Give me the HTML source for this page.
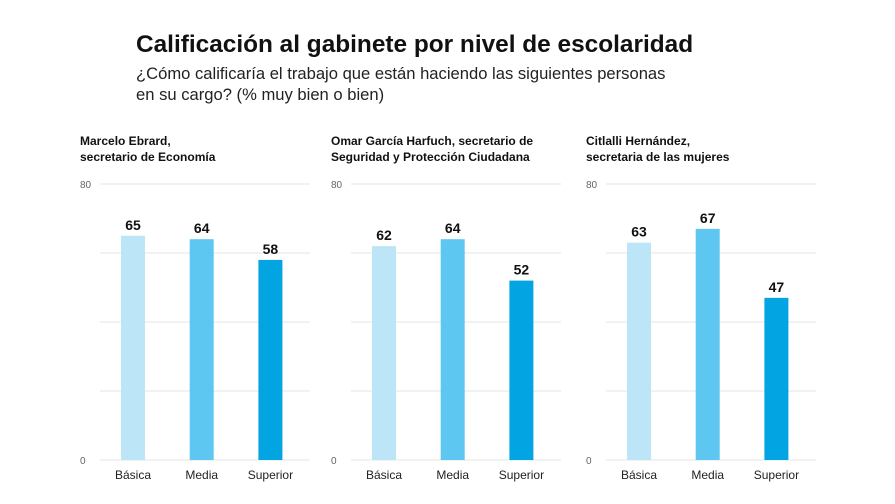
<!DOCTYPE html>
<html><head><meta charset="utf-8">
<style>
body{margin:0;background:#fff;font-family:"Liberation Sans",sans-serif;}
#wrap{position:relative;width:895px;height:504px;overflow:hidden;}
</style></head>
<body>
<div id="wrap">
<svg id="svg" width="895" height="504">
<text x="136" y="52" font-size="24.4" font-weight="bold" fill="#111">Calificación al gabinete por nivel de escolaridad</text>
<text x="136" y="79" font-size="16.6" fill="#222">¿Cómo calificaría el trabajo que están haciendo las siguientes personas</text>
<text x="136" y="100" font-size="16.6" fill="#222">en su cargo? (% muy bien o bien)</text>
</svg>
</div>
<script>
const panelTitles=[["Marcelo Ebrard,","secretario de Economía"],["Omar García Harfuch, secretario de","Seguridad y Protección Ciudadana"],["Citlalli Hernández,","secretaria de las mujeres"]];
const categories=["Básica","Media","Superior"];
const ebrardValues=[65,64,58];
const harfuchValues=[62,64,52];
const hernandezValues=[63,67,47];
const tickLabels=[0,80];
const gridValues=[0,20,40,60,80];
const series=[ebrardValues,harfuchValues,hernandezValues];
const colors=["#bde5f8","#5dc7f1","#03a4e2"];
const svg=document.getElementById('svg');
const NS="http://www.w3.org/2000/svg";
const panelX=[80,331,586];
const y0=460,y80=184,yMax=80;
function yScale(v){return y0-(v/yMax)*(y0-y80);}
function xScale(p,i){return panelX[p]+41+i*68.7;}
function mk(tag,attrs){const e=document.createElementNS(NS,tag);for(const k in attrs)e.setAttribute(k,attrs[k]);svg.appendChild(e);return e;}
series.forEach((vals,p)=>{
  const px=panelX[p];
  panelTitles[p].forEach((t,j)=>{
    const e=mk('text',{x:px,y:145+j*16,'font-size':12,'font-weight':'bold',fill:'#111'});
    e.textContent=t;
    
    
  });
  gridValues.forEach(g=>{
    const l=mk('line',{x1:px+20,x2:px+230,y1:yScale(g),y2:yScale(g),stroke:'#e4e4e4','stroke-width':1});
    
    
  });
  tickLabels.forEach(t=>{
    const e=mk('text',{x:px,y:yScale(t)+4,'font-size':10,fill:'#666'});
    e.textContent=t;
    
    
  });
  vals.forEach((v,i)=>{
    const x=xScale(p,i);
    const r=mk('rect',{x:x,y:yScale(v),width:24,height:y0-yScale(v),fill:colors[i]});
    
    
    const t=mk('text',{x:x+12,y:yScale(v)-6,'font-size':14,'font-weight':'bold',fill:'#111','text-anchor':'middle'});
    t.textContent=v;
    
    
    const c=mk('text',{x:x+12,y:479,'font-size':12,fill:'#222','text-anchor':'middle'});
    c.textContent=categories[i];
    
    
  });
});
</script>
</body></html>
